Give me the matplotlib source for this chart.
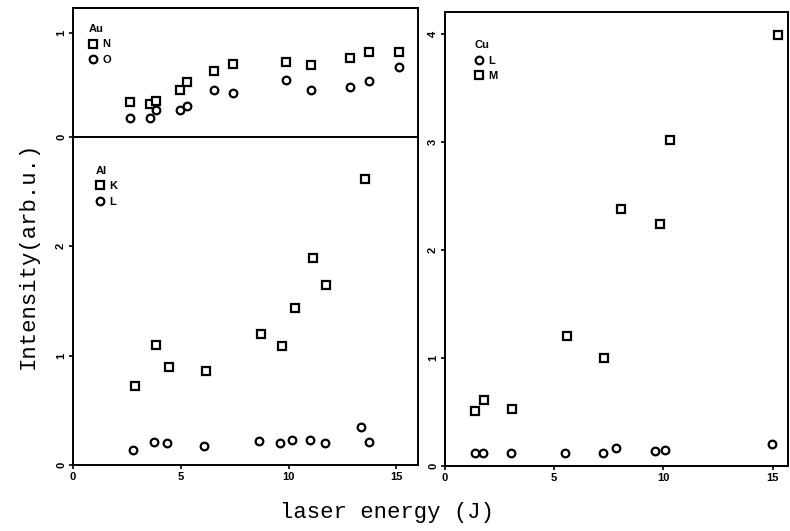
import matplotlib
matplotlib.use("Agg")
import matplotlib.pyplot as plt

# Au panel
au_x = [2.64, 3.56, 3.87, 4.95, 5.3, 6.53, 7.42, 9.89, 11.05, 12.85, 13.75, 15.1]
au_N = [0.34, 0.32, 0.35, 0.45, 0.53, 0.63, 0.70, 0.72, 0.69, 0.76, 0.82, 0.82]
au_O = [0.18, 0.18, 0.26, 0.26, 0.30, 0.45, 0.42, 0.55, 0.45, 0.48, 0.54, 0.67]

# Al panel
al_K_x = [2.87, 3.84, 4.46, 6.19, 8.70, 9.71, 10.28, 11.13, 11.74, 13.52]
al_K = [0.72, 1.10, 0.90, 0.86, 1.20, 1.09, 1.44, 1.89, 1.65, 2.62]
al_L_x = [2.76, 3.77, 4.34, 6.08, 8.61, 9.61, 10.17, 10.97, 11.7, 13.36, 13.72]
al_L = [0.14, 0.21, 0.20, 0.17, 0.22, 0.20, 0.23, 0.23, 0.20, 0.35, 0.21]

# Cu panel
cu_M_x = [1.38, 1.80, 3.09, 5.60, 7.29, 8.07, 9.86, 10.28, 15.24]
cu_M = [0.51, 0.61, 0.53, 1.20, 1.00, 2.38, 2.24, 3.02, 3.99]
cu_L_x = [1.38, 1.73, 3.03, 5.50, 7.23, 7.84, 9.63, 10.06, 14.98]
cu_L = [0.12, 0.12, 0.12, 0.12, 0.12, 0.17, 0.14, 0.15, 0.20]

mono = "Liberation Mono"
tickfont = {"family": "Liberation Sans", "weight": "bold", "size": 8}
mk = dict(linestyle="none", markerfacecolor="white", markeredgecolor="black",
          markeredgewidth=1.6, color="black")


def style(ax, yticks, xticks=None):
    for s in ax.spines.values():
        s.set_linewidth(1.4)
    ax.set_yticks(yticks)
    ax.set_yticklabels([str(t) for t in yticks], fontdict=tickfont,
                       rotation=90, va="center")
    if xticks is None:
        ax.set_xticks([0, 5, 10, 15])
        ax.set_xticklabels([])
    else:
        ax.set_xticks(xticks)
        ax.set_xticklabels([str(t) for t in xticks], fontdict=tickfont)
    ax.tick_params(direction="out", length=3, width=1.2, pad=2)


def legend(ax, title, x, y):
    lg = ax.legend(loc="upper left", bbox_to_anchor=(x, y), frameon=False,
                   title=title, alignment="left", handlelength=0.8,
                   handletextpad=0.4, labelspacing=0.5, borderpad=0,
                   prop={"family": "Liberation Sans", "weight": "bold", "size": 8},
                   title_fontproperties={"family": "Liberation Sans",
                                         "weight": "bold", "size": 8})
    return lg


fig = plt.figure(figsize=(7.9, 5.31), dpi=100)
ax_au = fig.add_axes([0.0924, 0.742, 0.4367, 0.243])
ax_al = fig.add_axes([0.0924, 0.1243, 0.4367, 0.6177])
ax_cu = fig.add_axes([0.5633, 0.1224, 0.434, 0.855])

ax_au.plot(au_x, au_N, marker="s", markersize=5.5, label="N", **mk)
ax_au.plot(au_x, au_O, marker="o", markersize=5.5, label="O", **mk)
ax_au.set_xlim(0, 16)
ax_au.set_ylim(0, 1.24)
style(ax_au, [0, 1])
legend(ax_au, "Au", 0.03, 0.92)

ax_al.plot(al_K_x, al_K, marker="s", markersize=6, label="K", **mk)
ax_al.plot(al_L_x, al_L, marker="o", markersize=5.5, label="L", **mk)
ax_al.set_xlim(0, 16)
ax_al.set_ylim(0, 3.0)
style(ax_al, [0, 1, 2], [0, 5, 10, 15])
legend(ax_al, "Al", 0.05, 0.93)

ax_cu.plot(cu_L_x, cu_L, marker="o", markersize=5.5, label="L", **mk)
ax_cu.plot(cu_M_x, cu_M, marker="s", markersize=6, label="M", **mk)
ax_cu.set_xlim(0, 15.7)
ax_cu.set_ylim(0, 4.2)
style(ax_cu, [0, 1, 2, 3, 4], [0, 5, 10, 15])
legend(ax_cu, "Cu", 0.07, 0.95)

fig.text(0.036, 0.52, "Intensity(arb.u.)", family=mono, size=16,
         rotation=90, ha="center", va="center")
fig.text(0.49, 0.035, "laser energy (J)", family=mono, size=16,
         ha="center", va="center")

fig.savefig("out.png", dpi=100)
